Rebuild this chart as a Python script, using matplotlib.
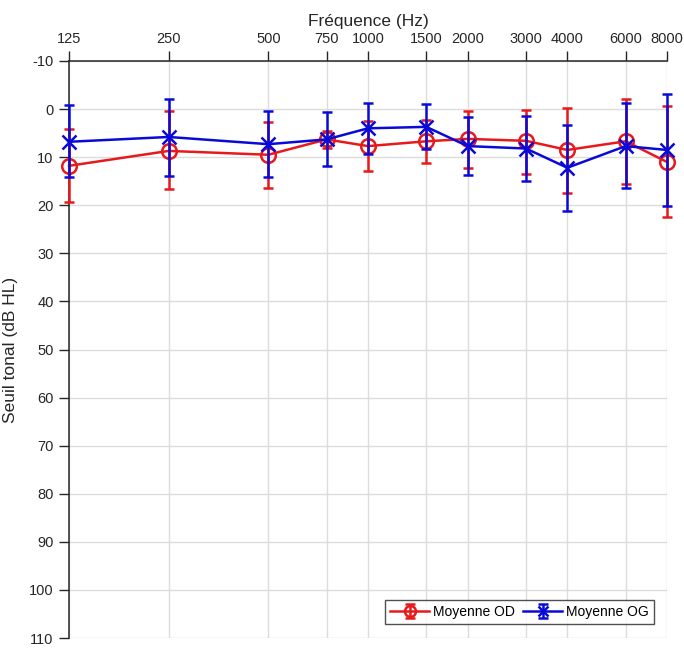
import numpy as np
import matplotlib
matplotlib.use("Agg")
import matplotlib.pyplot as plt
import matplotlib.ticker as tkr

plt.rcParams['font.family'] = ['Liberation Sans', 'DejaVu Sans']
plt.rcParams['axes.unicode_minus'] = False

# ---- data ----
freqs = [125, 250, 500, 750, 1000, 1500, 2000, 3000, 4000, 6000, 8000]
freq_labels = ["125", "250", "500", "750", "1000", "1500", "2000", "3000", "4000", "6000", "8000"]

od_mean = [11.8, 8.7, 9.5, 6.3, 7.7, 6.7, 6.2, 6.6, 8.5, 6.7, 11.0]
od_top = [4.2, 0.4, 2.6, 4.5, 2.4, 2.2, 0.3, 0.1, -0.3, -2.0, -0.7]
od_bottom = [19.4, 16.6, 16.4, 8.0, 12.8, 11.3, 12.3, 13.6, 17.5, 15.6, 22.4]

og_mean = [6.8, 5.8, 7.3, 6.3, 4.0, 3.7, 7.7, 8.2, 12.2, 7.7, 8.5]
og_top = [-0.8, -2.2, 0.3, 0.7, -1.2, -1.0, 1.7, 1.4, 3.3, -1.2, -3.1]
og_bottom = [14.2, 13.9, 14.1, 11.9, 9.4, 8.4, 13.7, 15.0, 21.2, 16.4, 20.1]

yticks = list(range(-10, 111, 10))

# ---- plot ----
fig = plt.figure(figsize=(6.84, 6.48), dpi=100)
ax = fig.add_axes([69 / 684, 10 / 648, 598 / 684, 577 / 648])

od_err = [np.array(od_mean) - np.array(od_top), np.array(od_bottom) - np.array(od_mean)]
og_err = [np.array(og_mean) - np.array(og_top), np.array(og_bottom) - np.array(og_mean)]

od = ax.errorbar(freqs, od_mean, yerr=od_err, color='#e8191c', lw=1.8, marker='o',
                 markersize=10.5, markerfacecolor='none', markeredgewidth=1.8,
                 capsize=3.5, capthick=1.8, elinewidth=1.8, label='Moyenne OD', zorder=3)
og = ax.errorbar(freqs, og_mean, yerr=og_err, color='#0a0ad8', lw=1.8, marker='x',
                 markersize=9.5, markeredgewidth=1.8,
                 capsize=3.5, capthick=1.8, elinewidth=1.8, label='Moyenne OG', zorder=4)
for cont in (od, og):
    for art in cont.get_children():
        art.set_clip_on(False)

ax.set_xscale('log')
ax.set_xlim(125, 8000)
ax.set_xticks(freqs)
ax.xaxis.set_major_formatter(tkr.FixedFormatter(freq_labels))
ax.xaxis.set_minor_locator(tkr.NullLocator())
ax.xaxis.tick_top()
ax.xaxis.set_label_position('top')
ax.set_xlabel('Fréquence (Hz)', fontsize=12.5, color='#262626', labelpad=4)

ax.set_ylim(110, -10)
ax.set_yticks(yticks)
ax.set_ylabel('Seuil tonal (dB HL)', fontsize=12.5, color='#262626', labelpad=8)

ax.tick_params(axis='both', direction='out', length=7, width=1, labelsize=10.5,
               colors='#262626', pad=4)
ax.grid(True, color='#dcdcdc', lw=1)
ax.set_axisbelow(True)

for s in ['right', 'bottom']:
    ax.spines[s].set_visible(False)
for s in ['left', 'top']:
    ax.spines[s].set_color('#262626')
    ax.spines[s].set_linewidth(1.1)

leg = ax.legend(loc='lower right', ncol=2, fontsize=10, frameon=True, fancybox=False,
                edgecolor='#262626', handlelength=2.8, handletextpad=0.3,
                columnspacing=0.6, borderpad=0.35, markerscale=0.75,
                bbox_to_anchor=(0.99, 0.012))
leg.get_frame().set_linewidth(1)

fig.savefig('out.png', dpi=100)
